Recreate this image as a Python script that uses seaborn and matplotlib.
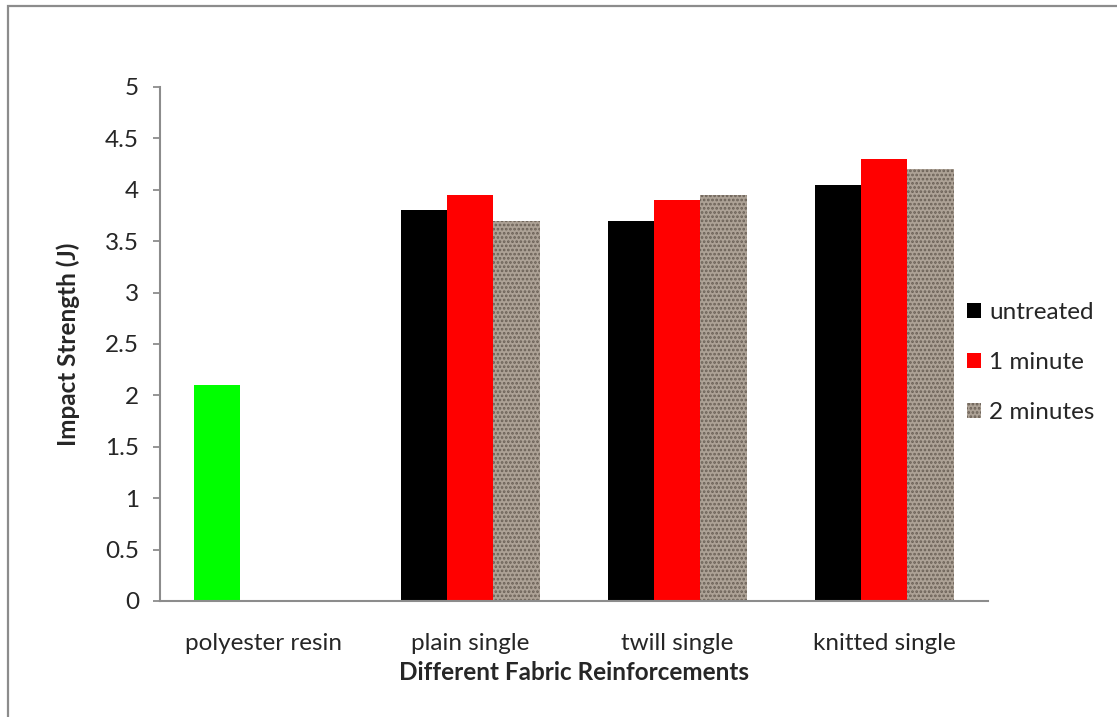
import pandas as pd
import matplotlib
matplotlib.use('Agg')
import matplotlib.pyplot as plt
from matplotlib.patches import Patch, Rectangle
import seaborn as sns

categories = ['polyester resin', 'plain single', 'twill single', 'knitted single']
series = ['untreated', '1 minute', '2 minutes']
untreated = [2.1, 3.8, 3.7, 4.05]
one_minute = [None, 3.95, 3.9, 4.3]
two_minutes = [None, 3.7, 3.95, 4.2]
y_ticks = [0, 0.5, 1, 1.5, 2, 2.5, 3, 3.5, 4, 4.5, 5]

rows = []
for s, vals in zip(series, [untreated, one_minute, two_minutes]):
    for c, v in zip(categories, vals):
        rows.append({'category': c, 'series': s, 'value': v})
df = pd.DataFrame(rows)

sns.set_style('white')
plt.rcParams['font.family'] = ['Lato', 'DejaVu Sans']
plt.rcParams['hatch.linewidth'] = 1.3

colors = ['#000000', '#ff0000', '#ada296']
texture_edge = '#6a6056'
fs = 17.5

fig = plt.figure(figsize=(11.17, 7.17), dpi=100)
ax = fig.add_axes([0.1432, 0.1618, 0.7413, 0.7169])

sns.barplot(data=df, x='category', y='value', hue='series', order=categories,
            hue_order=series, palette=colors, width=0.667, gap=0, saturation=1,
            errorbar=None, legend=False, ax=ax)

for bar in ax.containers[0]:
    bar.set_edgecolor('none')
ax.containers[0][0].set_facecolor('#00ff00')
for bar in ax.containers[1]:
    bar.set_edgecolor('none')
for bar in ax.containers[2]:
    bar.set_hatch('....')
    bar.set_edgecolor(texture_edge)
    bar.set_linewidth(0)

ax.set_ylim(0, 5)
ax.set_xlim(-0.5, len(categories) - 0.5)
ax.set_yticks(y_ticks)
ax.set_yticklabels([f'{t:g}' for t in y_ticks])
for side in ['top', 'right']:
    ax.spines[side].set_visible(False)
for side in ['left', 'bottom']:
    ax.spines[side].set_color('#8c8c8c')
    ax.spines[side].set_linewidth(1.5)
ax.tick_params(axis='y', left=True, length=5, width=1.3, color='#8c8c8c',
               pad=10, labelsize=fs)
ax.tick_params(axis='x', bottom=False, length=0, pad=23, labelsize=fs)

ax.set_xlabel('Different Fabric Reinforcements', fontsize=fs, fontweight='bold', labelpad=5)
ax.set_ylabel('Impact Strength (J)', fontsize=fs, fontweight='bold', labelpad=18)

handles = [Patch(facecolor=colors[0], edgecolor='none'),
           Patch(facecolor=colors[1], edgecolor='none'),
           Patch(facecolor=colors[2], edgecolor=texture_edge, hatch='....', linewidth=0)]
fig.legend(handles, series, loc='center left', bbox_to_anchor=(0.855, 0.4945),
           frameon=False, fontsize=fs, handlelength=0.58, handleheight=0.58,
           handletextpad=0.33, labelspacing=1.2, borderpad=0)

fig.patches.append(Rectangle((8 / 1117, -0.1), 1.2, 0.1 + 1 - 6 / 717,
                             transform=fig.transFigure, fill=False,
                             edgecolor='#8c8c8c', linewidth=1.6))

fig.savefig('out.png', dpi=100)
